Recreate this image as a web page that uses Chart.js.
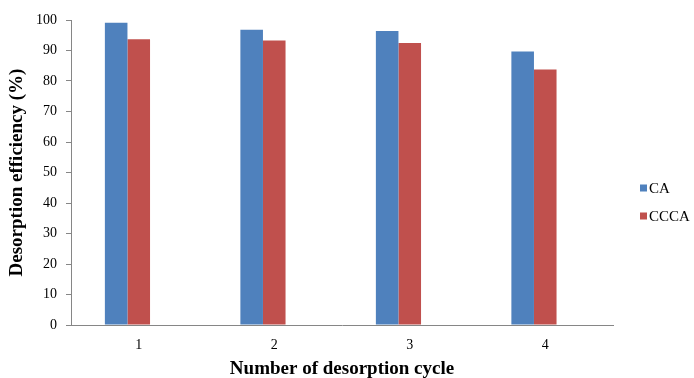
<!DOCTYPE html>
<html>
<head>
<meta charset="utf-8">
<script src="https://cdn.jsdelivr.net/npm/chart.js@4/dist/chart.umd.min.js"></script>
<style>
  html, body { margin: 0; padding: 0; background: #fff; }
  #wrap { width: 694px; height: 378px; }
</style>
</head>
<body>
<div id="wrap"><canvas id="c" width="694" height="378"></canvas></div>
<script>
// Desorption cycles and efficiency (%) for each adsorbent
const cycles = ['1', '2', '3', '4'];
const caValues = [99.1, 96.8, 96.4, 89.7];
const cccaValues = [93.7, 93.3, 92.5, 83.8];
// Empty third series: keeps a blank slot after each CA/CCCA pair
const blankValues = [null, null, null, null];
const seriesNames = ['CA', 'CCCA', ''];
const seriesColors = ['#4F81BD', '#C0504D', '#9BBB59'];

const serif = '"Liberation Serif", "Times New Roman", serif';

// Legend drawn to the right of the plot, stacked vertically (named series only)
const sideLegend = {
  id: 'sideLegend',
  afterDraw(chart) {
    const ctx = chart.ctx;
    const x = 640, y0 = 188, gap = 28;
    ctx.save();
    ctx.font = '15px ' + serif;
    ctx.textBaseline = 'middle';
    chart.data.datasets.filter(ds => ds.label).forEach((ds, i) => {
      const y = y0 + i * gap;
      ctx.fillStyle = ds.backgroundColor;
      ctx.fillRect(x, y - 3.5, 7, 7);
      ctx.fillStyle = '#000';
      ctx.fillText(ds.label, x + 9, y + 1);
    });
    ctx.restore();
  }
};

new Chart(document.getElementById('c'), {
  type: 'bar',
  data: {
    labels: cycles,
    datasets: [
      { label: seriesNames[0], data: caValues, backgroundColor: seriesColors[0] },
      { label: seriesNames[1], data: cccaValues, backgroundColor: seriesColors[1] },
      { label: seriesNames[2], data: blankValues, backgroundColor: seriesColors[2] }
    ]
  },
  options: {
    responsive: false,
    animation: false,
    devicePixelRatio: 1,
    layout: { padding: { top: 20, right: 81, bottom: 0, left: 6 } },
    datasets: { bar: { categoryPercentage: 0.5, barPercentage: 1 } },
    plugins: { legend: { display: false }, tooltip: { enabled: false } },
    scales: {
      x: {
        afterFit(scale) { scale.height = 53; },
        grid: { display: false, drawTicks: false },
        border: { display: true, color: '#868686', width: 1 },
        ticks: { color: '#000', font: { family: serif, size: 14 }, padding: 12 },
        title: {
          display: true,
          text: 'Number of desorption cycle',
          color: '#000',
          font: { family: serif, size: 19, weight: 'bold' },
          padding: { top: 0, bottom: -2 }
        }
      },
      y: {
        afterFit(scale) { scale.width = 65; },
        min: 0,
        max: 100,
        ticks: { stepSize: 10, color: '#000', font: { family: serif, size: 14 }, padding: 9 },
        grid: { display: true, drawOnChartArea: false, drawTicks: true, tickLength: 5, color: '#868686' },
        border: { display: true, color: '#868686', width: 1 },
        title: {
          display: true,
          text: 'Desorption efficiency (%)',
          color: '#000',
          font: { family: serif, size: 19, weight: 'bold' },
          padding: { top: 0, bottom: 0 }
        }
      }
    }
  },
  plugins: [sideLegend]
});
</script>
</body>
</html>
